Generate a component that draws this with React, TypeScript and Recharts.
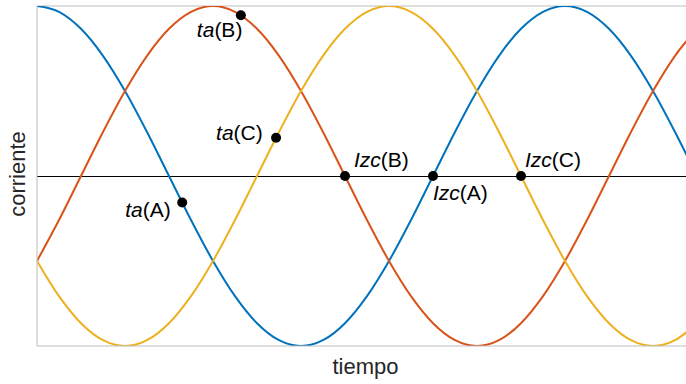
import { LineChart, Line, XAxis, YAxis, ReferenceLine, ReferenceDot, Label } from 'recharts';

// phase angle (deg) sampled every 15 deg; the view stops a bit short of 450
const angles = [
  0, 15, 30, 45, 60, 75, 90, 105, 120, 135, 150, 165, 180, 195, 210, 225,
  240, 255, 270, 285, 300, 315, 330, 345, 360, 375, 390, 405, 420, 435, 450,
];

// phase A (blue)
const phaseA = [
  1, 0.966, 0.866, 0.707, 0.5, 0.259, 0, -0.259, -0.5, -0.707, -0.866, -0.966, -1, -0.966, -0.866, -0.707,
  -0.5, -0.259, 0, 0.259, 0.5, 0.707, 0.866, 0.966, 1, 0.966, 0.866, 0.707, 0.5, 0.259, 0,
];

// phase B (orange)
const phaseB = [
  -0.5, -0.259, 0, 0.259, 0.5, 0.707, 0.866, 0.966, 1, 0.966, 0.866, 0.707, 0.5, 0.259, 0, -0.259,
  -0.5, -0.707, -0.866, -0.966, -1, -0.966, -0.866, -0.707, -0.5, -0.259, 0, 0.259, 0.5, 0.707, 0.866,
];

// phase C (yellow)
const phaseC = [
  -0.5, -0.707, -0.866, -0.966, -1, -0.966, -0.866, -0.707, -0.5, -0.259, 0, 0.259, 0.5, 0.707, 0.866, 0.966,
  1, 0.966, 0.866, 0.707, 0.5, 0.259, 0, -0.259, -0.5, -0.707, -0.866, -0.966, -1, -0.966, -0.866,
];

// marked instants: sampling times ta(.) and zero crossings Izc(.)
const markerNames = ['ta', 'ta', 'ta', 'Izc', 'Izc', 'Izc'];
const markerPhases = ['B', 'C', 'A', 'B', 'A', 'C'];
const markerAngles = [139, 163, 99, 210, 270, 330];
const markerValues = [0.946, 0.225, -0.156, 0, 0, 0];

// label placement relative to each dot (px)
const labelOffsets: [number, number][] = [
  [-44, 22],
  [-60, 2],
  [-57, 14],
  [9, -9],
  [0, 24],
  [4, -9],
];

const data = angles.map((t, i) => ({ t, a: phaseA[i], b: phaseB[i], c: phaseC[i] }));

const FONT = '"Liberation Sans", Arial, Helvetica, sans-serif';
const BOX = '#bdbdbd';

const App = () => {
  return (
    <div style={{ position: 'absolute', left: 0, top: 0, background: '#fff' }}>
      <LineChart width={686} height={384} data={data} margin={{ top: 6, right: 0, bottom: 0, left: 0 }}>
        <XAxis
          dataKey="t"
          type="number"
          domain={[0, 442.5]}
          allowDataOverflow
          tick={false}
          tickLine={false}
          height={38}
          axisLine={{ stroke: BOX, strokeWidth: 1 }}
        >
          <Label
            content={({ viewBox }: any) => (
              <text
                x={viewBox.x + viewBox.width / 2 + 4}
                y={viewBox.y + 28}
                textAnchor="middle"
                fontFamily={FONT}
                fontSize={22}
                fill="#262626"
              >
                tiempo
              </text>
            )}
          />
        </XAxis>
        <YAxis
          type="number"
          domain={[-1, 1]}
          allowDataOverflow
          tick={false}
          tickLine={false}
          width={37}
          axisLine={{ stroke: BOX, strokeWidth: 1 }}
        >
          <Label
            content={() => (
              <text
                x={25}
                y={174}
                transform="rotate(-90 25 174)"
                textAnchor="middle"
                fontFamily={FONT}
                fontSize={22}
                fill="#262626"
              >
                corriente
              </text>
            )}
          />
        </YAxis>
        <ReferenceLine y={1} stroke={BOX} strokeWidth={1} ifOverflow="visible" />
        <ReferenceLine y={0} stroke="#000" strokeWidth={1} shapeRendering="crispEdges" />
        <Line type="monotone" dataKey="a" stroke="#0072BD" strokeWidth={2} dot={false} isAnimationActive={false} />
        <Line type="monotone" dataKey="b" stroke="#D95319" strokeWidth={2} dot={false} isAnimationActive={false} />
        <Line type="monotone" dataKey="c" stroke="#EDB120" strokeWidth={2} dot={false} isAnimationActive={false} />
        {markerAngles.map((t, i) => (
          <ReferenceDot
            key={`m-${i}`}
            x={t}
            y={markerValues[i]}
            r={5}
            shape={(p: any) => (
              <g>
                <circle cx={p.cx} cy={p.cy} r={5} fill="#000" />
                <text
                  x={p.cx + labelOffsets[i][0]}
                  y={p.cy + labelOffsets[i][1]}
                  fontFamily={FONT}
                  fontSize={21}
                  fill="#000"
                >
                  <tspan fontStyle="italic">{markerNames[i]}</tspan>
                  <tspan>{`(${markerPhases[i]})`}</tspan>
                </text>
              </g>
            )}
          />
        ))}
      </LineChart>
    </div>
  );
};

export default App;
